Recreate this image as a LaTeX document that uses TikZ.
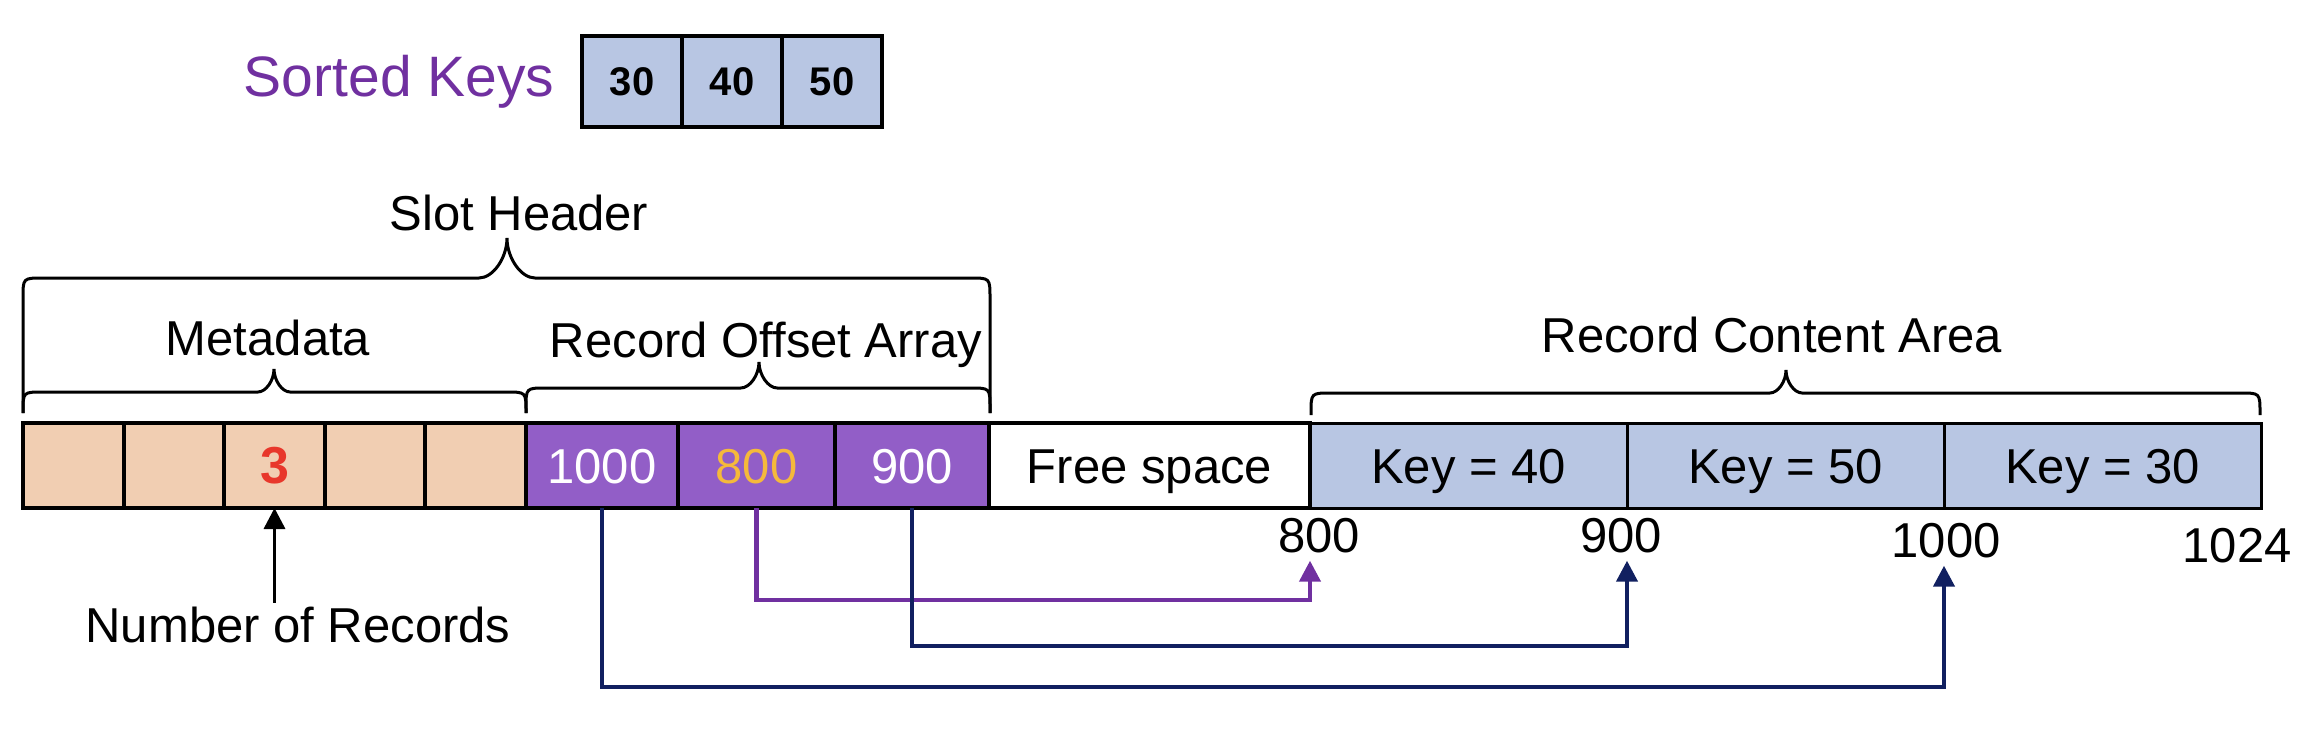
\documentclass[tikz,border=0pt]{standalone}
\usepackage{fontspec}
\setmainfont{Liberation Sans}
\usetikzlibrary{arrows.meta,positioning}
\definecolor{Peach}{HTML}{F1CEB2}
\definecolor{SlotViolet}{HTML}{925EC7}
\definecolor{KeyBlue}{HTML}{B8C6E3}
\definecolor{CountRed}{HTML}{E8372B}
\definecolor{Amber}{HTML}{F5B93B}
\definecolor{Plum}{HTML}{7030A0}
\definecolor{Navy}{HTML}{112060}
\tikzset{cell/.style={draw=black,line width=4pt,outer sep=0pt,inner sep=0pt,minimum height=85pt,text height=36pt,text depth=0pt,font=\fontsize{49}{59}\selectfont},meta/.style={cell,fill=Peach,minimum width=100.6pt},slot/.style={cell,fill=SlotViolet,text=white},rec/.style={cell,fill=KeyBlue,line width=3pt,minimum width=317pt},sorted/.style={draw=black,line width=4pt,fill=KeyBlue,outer sep=0pt,minimum width=100pt,minimum height=91pt,font=\fontsize{40}{48}\selectfont\bfseries},lbl/.style={font=\fontsize{49}{59}\selectfont},offs/.style={lbl,inner sep=8pt,anchor=base},curly/.style={line width=3pt},ptr/.style={-{Triangle[length=21pt,width=21pt]},line width=4.2pt}}
% x1, x2, middle, foot, line, tip
\newcommand\drawbrace[6]{%
  \draw[curly](#1,#4)--(#1,#5+20) .. controls (#1,#5) .. (#1+20,#5)
    --({#3-0.7*(#5-#6)},#5) .. controls ({#3-0.35*(#5-#6)},#5) and (#3,{#5-0.5*(#5-#6)}) .. (#3,#6)
    .. controls (#3,{#5-0.5*(#5-#6)}) and ({#3+0.35*(#5-#6)},#5) .. ({#3+0.7*(#5-#6)},#5)
    --(#2-20,#5) .. controls (#2,#5) .. (#2,#5+20)--(#2,#4);}

\begin{document}
\begin{tikzpicture}[x=1pt,y=-1pt]
  \useasboundingbox (0,0) rectangle (2318,754);
  % sorted keys
  \node[sorted,anchor=west](s30) at (582,81.5){30};
  \node[sorted,right=0pt of s30](s40){40};
  \node[sorted,right=0pt of s40](s50){50};
  \node[lbl,font=\fontsize{57}{68}\selectfont,text=Plum,left=24pt of s30](sortlbl){Sorted Keys};
  % page
  \node[meta,anchor=west](m1) at (23,465.5){};
  \node[meta,right=0pt of m1](m2){};
  \node[meta,right=0pt of m2,text=CountRed,font=\fontsize{52}{62}\selectfont\bfseries](m3){3};
  \node[meta,right=0pt of m3](m4){};
  \node[meta,right=0pt of m4](m5){};
  \node[slot,minimum width=152pt,right=0pt of m5](o1000){1000};
  \node[slot,minimum width=157pt,right=0pt of o1000,text=Amber](o800){800};
  \node[slot,minimum width=154pt,right=0pt of o800](o900){900};
  \node[cell,fill=white,minimum width=321pt,right=0pt of o900](free){Free space};
  \node[rec,right=0pt of free](k40){Key = 40};
  \node[rec,right=0pt of k40](k50){Key = 50};
  \node[rec,right=0pt of k50](k30){Key = 30};
  % braces
  \drawbrace{23}{990}{507}{413}{278}{238}
  \drawbrace{23}{526}{274}{413}{392}{369}
  \drawbrace{526}{990}{759}{413}{388}{362}
  \drawbrace{1311}{2260}{1786}{415}{393}{370}
  \node[lbl,anchor=base](slothdr) at (519,230){Slot Header};
  \node[lbl,anchor=base](metalbl) at (268,355){Metadata};
  \node[lbl,anchor=base](offlbl) at (766,357){Record Offset Array};
  \node[lbl,anchor=base](contlbl) at (1772,352){Record Content Area};
  % offsets
  \node[offs](n800) at (1319,552){800};
  \node[offs](n900) at (1621,552){900};
  \node[offs](n1000) at (1946,557){1000};
  \node[offs](n1024) at (2237,562){1024};
  \node[lbl,anchor=base](nrec) at (298,642){Number of Records};
  \draw[ptr,line width=3.5pt](m3.south |- nrec.north)--(m3.south);
  \draw[ptr,color=Plum](o800.south)--++(0,92)-|(k40.south west |- n800.south);
  \draw[ptr,color=Navy](o900.south)--++(0,138)-|(k50.south west |- n900.south);
  \draw[ptr,color=Navy](o1000.south)--++(0,179)-|(k30.south west |- n1000.south);
\end{tikzpicture}
\end{document}
